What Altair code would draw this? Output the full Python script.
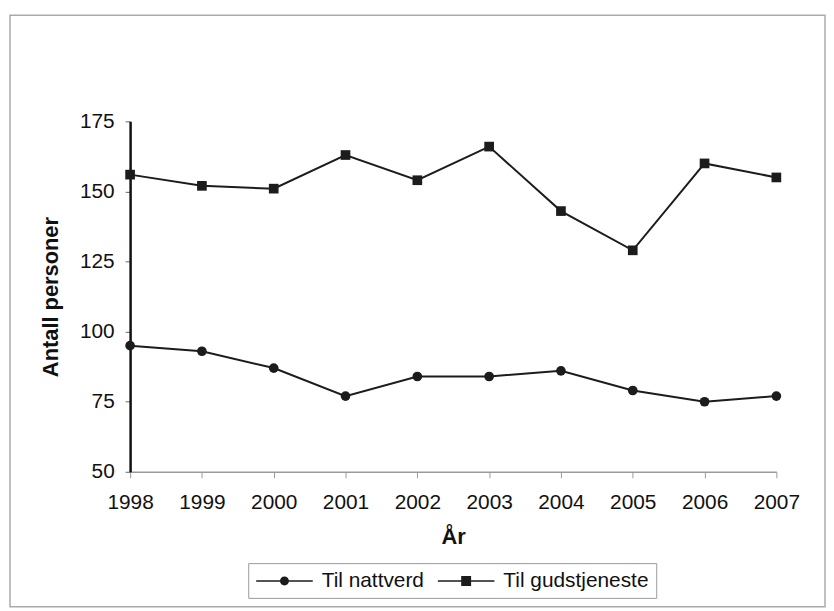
import altair as alt
import pandas as pd

years = [1998, 1999, 2000, 2001, 2002, 2003, 2004, 2005, 2006, 2007]
nattverd = [95, 93, 87, 77, 84, 84, 86, 79, 75, 77]
gudstjeneste = [156, 152, 151, 163, 154, 166, 143, 129, 160, 155]
series_names = ["Til nattverd", "Til gudstjeneste"]
y_ticks = [50, 75, 100, 125, 150, 175]

df = pd.DataFrame({
    "year": years * 2,
    "value": nattverd + gudstjeneste,
    "series": [series_names[0]] * len(years) + [series_names[1]] * len(years),
})

FONT = "Liberation Sans"
INK = "#1c1c1c"

x = alt.X(
    "year:Q",
    scale=alt.Scale(domain=[years[0], years[-1]], nice=False, zero=False),
    axis=alt.Axis(
        values=years, format="d", title="År", grid=False,
        labelFlush=False, labelOverlap=False,
        domainColor="#9a9a9a", domainWidth=1.5, tickColor="#9a9a9a", tickSize=6,
        labelPadding=14, labelFontSize=21, labelFont=FONT, labelColor="#111",
        titleFontSize=22, titleFont=FONT, titleFontWeight="bold", titleColor="#111",
        titlePadding=14,
    ),
)
y = alt.Y(
    "value:Q",
    scale=alt.Scale(domain=[y_ticks[0], y_ticks[-1]], nice=False, zero=False),
    axis=alt.Axis(
        values=y_ticks, title="Antall personer", grid=False,
        domainColor="#111", domainWidth=2.5, tickColor="#666", tickSize=5,
        labelPadding=11, labelFontSize=21, labelFont=FONT, labelColor="#111",
        titleFontSize=22, titleFont=FONT, titleFontWeight="bold", titleColor="#111",
        titlePadding=17,
    ),
)

frame = alt.Chart(pd.DataFrame({"k": [0]})).mark_rect(
    filled=False, stroke="#aaaaaa", strokeWidth=1.5
).encode(
    x=alt.value(-121), x2=alt.value(700), y=alt.value(-107), y2=alt.value(489)
)

base = alt.Chart(df)

lines = base.mark_line(color=INK, strokeWidth=2).encode(
    x=x, y=y, detail="series:N"
)

points = base.mark_point(filled=True, color=INK, size=95, opacity=1).encode(
    x=x, y=y,
    shape=alt.Shape(
        "series:N",
        scale=alt.Scale(domain=series_names, range=["circle", "square"]),
        legend=None,
    ),
)

seg = "M-1,-0.08H4.7V0.08H-1Z"
circle_path = seg + "M1.4,0A0.45,0.45,0,1,1,2.3,0A0.45,0.45,0,1,1,1.4,0Z"
square_path = seg + "M1.35,-0.5H2.35V0.5H1.35Z"

legend_layer = base.transform_filter("datum.year < 0").mark_point(
    filled=True, color=INK, size=400, opacity=1
).encode(
    x=x, y=y,
    shape=alt.Shape(
        "series:N",
        scale=alt.Scale(domain=series_names, range=[circle_path, square_path]),
        legend=alt.Legend(
            title=None, orient="none", legendX=119, legendY=445,
            direction="horizontal", labelFontSize=21, labelFont=FONT,
            labelColor="#111", labelOffset=45, columnPadding=10, padding=7,
            strokeColor="#999999", symbolSize=400,
            symbolFillColor=INK,
        ),
    ),
)

chart = alt.layer(frame, lines, points, legend_layer).resolve_scale(
    shape="independent"
).properties(
    width=651, height=353,
    autosize=alt.AutoSizeParams(type="none"),
    padding={"left": 123, "top": 112, "right": 50, "bottom": 135},
    background="white",
).configure_view(stroke=None)

chart.save("out.html", embed_options={"renderer": "svg", "actions": False})
